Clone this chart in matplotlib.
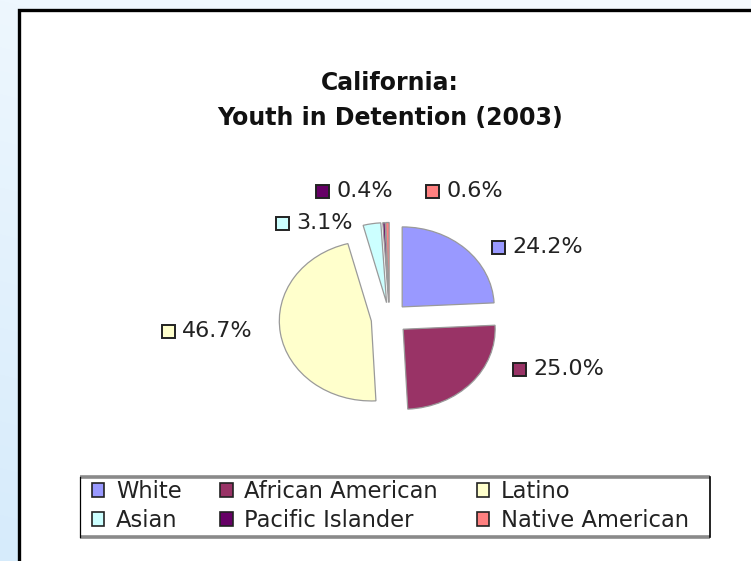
import numpy as np
import matplotlib
matplotlib.use("Agg")
import matplotlib.pyplot as plt
from matplotlib.patches import Rectangle, Patch
from matplotlib.colors import to_rgb

# data
categories = ["White", "African American", "Latino", "Asian",
              "Pacific Islander", "Native American"]
shares = [24.2, 25.0, 46.7, 3.1, 0.4, 0.6]
colors = ["#9999FF", "#993366", "#FFFFCC", "#CCFFFF", "#660066", "#FF8080"]
title_lines = ["California:", "Youth in Detention (2003)"]

W, H = 751, 561
plt.rcParams["font.family"] = ["DejaVu Sans"]

fig = plt.figure(figsize=(W / 100, H / 100), dpi=100)

# background in pixel coordinates
bg = fig.add_axes([0, 0, 1, 1])
bg.set_xlim(0, W)
bg.set_ylim(H, 0)
bg.axis("off")
yy, xx = np.mgrid[0:H, 0:W]
t = np.clip(0.75 * yy / H + 0.25 * (1 - xx / W), 0, 1)[..., None]
c0 = np.array(to_rgb("#F6FBFF"))
c1 = np.array(to_rgb("#D6EBFB"))
bg.imshow(c0 * (1 - t) + c1 * t, extent=(0, W, H, 0), aspect="auto", zorder=0)
bg.add_patch(Rectangle((18.5, 9.5), W + 20, H + 20, facecolor="white",
                       edgecolor="black", linewidth=2.4, zorder=1))

# title
for line, y in zip(title_lines, [83, 118]):
    bg.text(390, y, line, ha="center", va="center", fontsize=17,
            fontweight="bold", color="#111111", zorder=3)

# pie (centre ~ (389.5, 318.5) px, radii 92 x 80 px)
cx, cy, rx, ry = 389.5, 318.5, 92, 80
ax = fig.add_axes([0, 0, 1, 1])
ax.patch.set_alpha(0)
wedges, _ = ax.pie(shares, colors=colors, startangle=90, counterclock=False,
                   explode=[0.2] * len(shares), radius=1,
                   wedgeprops=dict(edgecolor="#9a9a9a", linewidth=0.9))
ax.set_aspect("auto")
ax.set_xlim(-cx / rx, (W - cx) / rx)
ax.set_ylim(-(H - cy) / ry, cy / ry)
ax.axis("off")

# percentage labels with coloured keys
label_pos = [(492, 247), (513, 369), (162, 331), (276, 223), (316, 191), (426, 191)]
for v, c, (lx, ly) in zip(shares, colors, label_pos):
    bg.add_patch(Rectangle((lx, ly - 6.5), 13, 13, facecolor=c,
                           edgecolor="#222222", linewidth=1.4, zorder=3))
    bg.text(lx + 20, ly, f"{v:.1f}%", ha="left", va="center",
            fontsize=16, color="#222222", zorder=3)

# legend box
bg.plot([80, 710], [477, 477], color="#8a8a8a", lw=2.6, zorder=3,
        solid_capstyle="butt")
bg.plot([80, 710], [537, 537], color="#8a8a8a", lw=2.6, zorder=3,
        solid_capstyle="butt")
bg.plot([80, 80], [477, 537], color="black", lw=0.9, zorder=3)
bg.plot([710, 710], [477, 537], color="black", lw=1.2, zorder=3)

handles = [Patch(facecolor=c, edgecolor="#222222", linewidth=1.2) for c in colors]
order = [0, 3, 1, 4, 2, 5]
fig.legend([handles[i] for i in order], [categories[i] for i in order],
           ncol=3, loc="upper left", bbox_to_anchor=(92 / W, 1 - 480 / H),
           frameon=False, fontsize=16.3, borderpad=0, borderaxespad=0,
           handlelength=0.55, handleheight=0.55, handletextpad=0.5,
           columnspacing=1.72, labelspacing=0.26, labelcolor="#222222")

fig.savefig("out.png", dpi=100)
